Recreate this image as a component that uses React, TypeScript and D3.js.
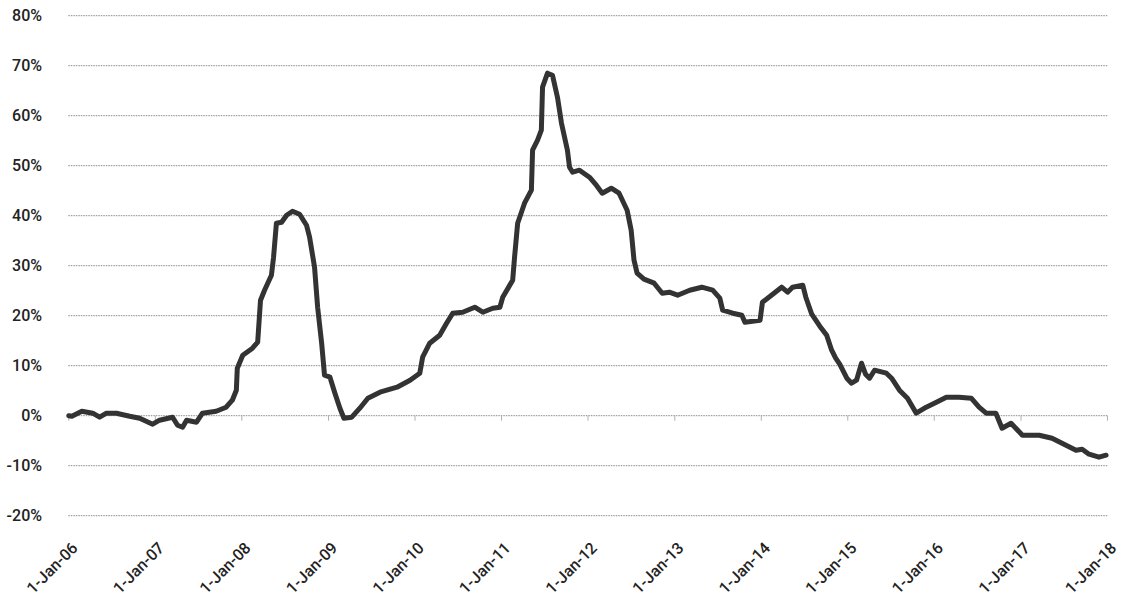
import React from "react";
import * as d3 from "d3";

const yTicks = [-20, -10, 0, 10, 20, 30, 40, 50, 60, 70, 80];
const xTickYears = [2006, 2007, 2008, 2009, 2010, 2011, 2012, 2013, 2014, 2015, 2016, 2017, 2018];

const dates = [
  "2006-01-01", "2006-01-14", "2006-02-25", "2006-04-12", "2006-05-11", "2006-06-09", "2006-07-21",
  "2006-09-15", "2006-10-27", "2006-12-21", "2007-01-19", "2007-03-15", "2007-04-05", "2007-04-26",
  "2007-05-13", "2007-06-24", "2007-07-19", "2007-09-15", "2007-10-27", "2007-11-22", "2007-12-09",
  "2007-12-13", "2008-01-05", "2008-02-15", "2008-03-08", "2008-03-20", "2008-04-06", "2008-05-05",
  "2008-05-14", "2008-05-26", "2008-06-17", "2008-07-08", "2008-08-02", "2008-09-01", "2008-09-30",
  "2008-10-13", "2008-11-03", "2008-11-16", "2008-12-03", "2008-12-15", "2009-01-07", "2009-01-28",
  "2009-02-18", "2009-03-07", "2009-04-09", "2009-05-13", "2009-06-16", "2009-08-06", "2009-10-17",
  "2009-12-11", "2010-01-21", "2010-02-02", "2010-03-04", "2010-04-15", "2010-05-14", "2010-06-09",
  "2010-07-21", "2010-09-10", "2010-10-14", "2010-11-25", "2010-12-25", "2011-01-06", "2011-02-17",
  "2011-02-25", "2011-03-10", "2011-04-08", "2011-05-07", "2011-05-12", "2011-06-02", "2011-06-18",
  "2011-06-23", "2011-07-14", "2011-08-04", "2011-08-25", "2011-09-11", "2011-10-06", "2011-10-15",
  "2011-10-28", "2011-11-26", "2012-01-07", "2012-02-05", "2012-03-01", "2012-04-08", "2012-05-11",
  "2012-06-14", "2012-07-01", "2012-07-13", "2012-07-26", "2012-08-24", "2012-10-06", "2012-11-09",
  "2012-12-09", "2013-01-13", "2013-03-05", "2013-04-25", "2013-06-10", "2013-07-10", "2013-07-22",
  "2013-09-03", "2013-10-11", "2013-10-24", "2013-12-27", "2014-01-06", "2014-02-13", "2014-03-28",
  "2014-04-22", "2014-05-13", "2014-06-25", "2014-07-08", "2014-08-02", "2014-09-05", "2014-10-04",
  "2014-10-25", "2014-11-11", "2014-11-28", "2014-12-28", "2015-01-17", "2015-02-07", "2015-02-28",
  "2015-03-17", "2015-04-03", "2015-04-24", "2015-06-13", "2015-07-05", "2015-08-07", "2015-09-10",
  "2015-10-17", "2015-11-28", "2016-01-10", "2016-02-21", "2016-04-15", "2016-06-05", "2016-07-08",
  "2016-08-07", "2016-09-17", "2016-10-13", "2016-11-20", "2017-01-07", "2017-03-19", "2017-05-12",
  "2017-07-10", "2017-08-21", "2017-09-16", "2017-10-15", "2017-11-26", "2017-12-26",
];

const values = [
  0.0, -0.1, 0.9, 0.5, -0.3, 0.5, 0.5,
  -0.1, -0.5, -1.7, -0.9, -0.3, -1.9, -2.3,
  -0.9, -1.3, 0.5, 0.9, 1.7, 3.1, 5.1,
  9.5, 12.1, 13.5, 14.7, 23.1, 25.1, 28.1,
  31.7, 38.5, 38.7, 40.1, 40.9, 40.3, 38.1,
  35.7, 29.7, 21.7, 14.5, 8.1, 7.7, 4.5,
  1.5, -0.5, -0.3, 1.5, 3.5, 4.7, 5.7,
  7.1, 8.5, 11.7, 14.5, 16.1, 18.5, 20.5,
  20.7, 21.7, 20.7, 21.5, 21.7, 23.7, 27.1,
  31.7, 38.5, 42.5, 45.1, 53.1, 55.1, 57.1,
  65.7, 68.5, 68.1, 63.7, 58.5, 53.1, 49.7,
  48.7, 49.1, 47.7, 46.1, 44.5, 45.5, 44.5,
  41.1, 37.1, 31.1, 28.5, 27.3, 26.5, 24.5,
  24.7, 24.1, 25.1, 25.7, 25.1, 23.5, 21.1,
  20.5, 20.1, 18.7, 19.1, 22.7, 24.1, 25.7,
  24.7, 25.7, 26.1, 23.7, 20.3, 17.9, 16.1,
  13.1, 11.5, 10.3, 7.5, 6.5, 7.1, 10.5,
  8.3, 7.5, 9.1, 8.5, 7.5, 5.1, 3.5,
  0.5, 1.7, 2.7, 3.7, 3.7, 3.5, 1.7,
  0.5, 0.5, -2.5, -1.5, -3.9, -3.9, -4.5,
  -5.9, -6.9, -6.7, -7.7, -8.3, -7.9,
];

const W = 1121;
const H = 596;

export default function App() {
  const parse = d3.timeParse("%Y-%m-%d");
  const data = dates.map((d, i) => ({ date: parse(d) as Date, value: values[i] }));

  const x = d3
    .scaleTime()
    .domain([new Date(2006, 0, 1), new Date(2018, 0, 1)])
    .range([68.8, 1107.5]);
  const y = d3.scaleLinear().domain([-20, 80]).range([515.7, 15.7]);

  const line = d3
    .line<{ date: Date; value: number }>()
    .x((d) => x(d.date))
    .y((d) => y(d.value))
    .curve(d3.curveLinear);

  const fmt = d3.timeFormat("%-d-%b-%y");
  const font = "Roboto, 'Open Sans', sans-serif";

  return (
    <div style={{ position: "fixed", left: 0, top: 0, width: W, height: H, background: "#fff" }}>
      <svg width={W} height={H} style={{ display: "block" }}>
        <rect x={0} y={0} width={W} height={H} fill="#fff" />
        {yTicks.map((t) => (
          <g key={"gy" + t}>
            <line
              x1={68.3}
              x2={1107.5}
              y1={y(t)}
              y2={y(t)}
              stroke="#8a8a8a"
              strokeWidth={1}
              strokeDasharray="1.5,1"
            />
            <text
              x={42}
              y={y(t)}
              dy="0.36em"
              textAnchor="end"
              fontFamily={font}
              fontSize={16}
              fontWeight={500}
              fill="#222"
            >
              {t + "%"}
            </text>
          </g>
        ))}
        {xTickYears.map((yr) => {
          const d = new Date(yr, 0, 1);
          const px = x(d);
          return (
            <g key={"gx" + yr}>
              <line x1={px} x2={px} y1={y(0)} y2={y(0) + 5} stroke="#b0b0b0" strokeWidth={1} />
              <text
                transform={`translate(${px + 10},${549}) rotate(-45)`}
                textAnchor="end"
                fontFamily={font}
                fontSize={16}
                fontWeight={500}
                fill="#222"
              >
                {fmt(d)}
              </text>
            </g>
          );
        })}
        <path
          d={line(data) || ""}
          fill="none"
          stroke="#333"
          strokeWidth={5}
          strokeLinejoin="round"
          strokeLinecap="round"
        />
      </svg>
    </div>
  );
}
